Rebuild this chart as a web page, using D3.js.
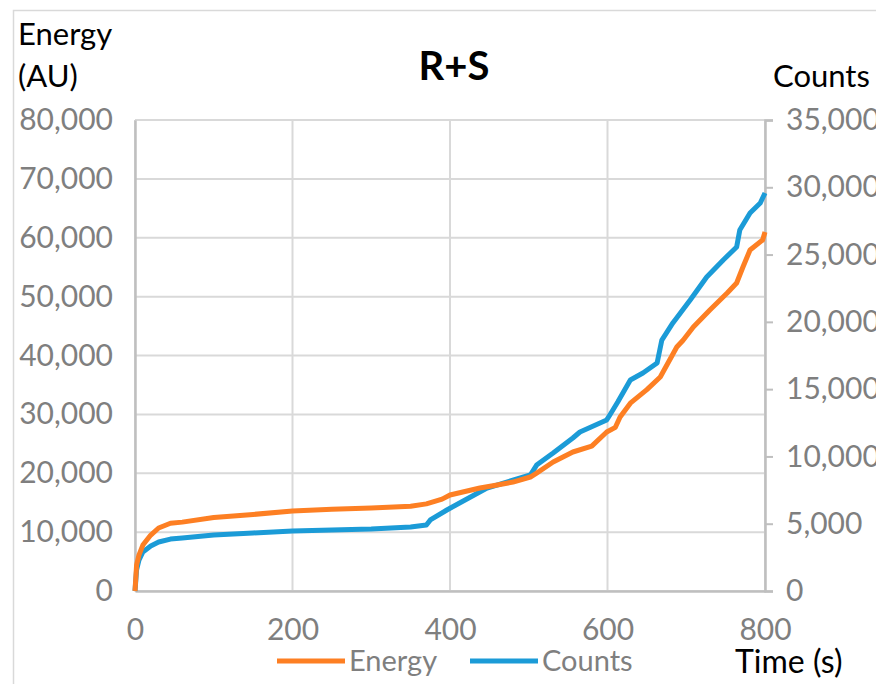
<!DOCTYPE html>
<html>
<head>
<meta charset="utf-8">
<script src="https://cdn.jsdelivr.net/npm/d3@7"></script>
<style>
  body { margin: 0; background: #fff; }
  text { font-family: Lato, "Open Sans", sans-serif; }
</style>
</head>
<body>
<div id="chart"></div>
<script>
// time (s) for each series
const energyTime = [0, 2, 5, 10, 20, 30, 45, 60, 100, 150, 200, 250, 300, 350, 370, 390, 400, 438, 460, 480, 502, 510, 531, 556, 580, 599, 610, 616, 629, 650, 667, 688, 696, 709, 730, 752, 764, 772, 781, 797, 800];
const energyValues = [0, 4400, 6100, 7800, 9500, 10700, 11500, 11700, 12500, 13000, 13600, 13900, 14100, 14400, 14800, 15600, 16300, 17500, 18000, 18500, 19360, 20040, 21910, 23610, 24600, 27000, 27800, 29550, 31900, 34200, 36350, 41440, 42600, 44840, 47730, 50620, 52310, 55030, 57920, 59620, 60980];

const countsTime = [0, 2, 5, 10, 20, 30, 45, 60, 100, 150, 200, 250, 300, 350, 370, 375, 396, 447, 502, 510, 531, 556, 565, 599, 603, 613, 629, 645, 663, 669, 683, 705, 726, 747, 764, 768, 781, 794, 800];
const countsValues = [0, 1560, 2300, 2900, 3350, 3640, 3860, 3940, 4160, 4310, 4460, 4530, 4610, 4760, 4900, 5280, 6020, 7650, 8620, 9360, 10250, 11370, 11815, 12710, 13080, 14040, 15680, 16200, 16940, 18650, 19920, 21620, 23330, 24600, 25560, 26830, 28090, 28830, 29580];

const xTicks = [0, 200, 400, 600, 800];
const leftTicks = [0, 10000, 20000, 30000, 40000, 50000, 60000, 70000, 80000];
const rightTicks = [0, 5000, 10000, 15000, 20000, 25000, 30000, 35000];

const width = 876, height = 684;
const margin = {top: 120, right: 111, bottom: 93, left: 135};
const innerW = width - margin.left - margin.right;
const innerH = height - margin.top - margin.bottom;

const orange = "#fd7f23", blue = "#1b9bd7";
const gridColor = "#d9d9d9", axisColor = "#bfbfbf", labelColor = "#7f7f7f";

const svg = d3.select("#chart").append("svg")
    .attr("width", width)
    .attr("height", height);

// chart frame
svg.append("rect")
    .attr("x", 13.5).attr("y", 10.5)
    .attr("width", 900).attr("height", 700)
    .attr("fill", "none")
    .attr("stroke", "#d9d9d9")
    .attr("stroke-width", 1.5);

const g = svg.append("g")
    .attr("transform", "translate(" + margin.left + "," + margin.top + ")");

const x = d3.scaleLinear().domain([0, 800]).range([0, innerW]);
const yL = d3.scaleLinear().domain([0, 80000]).range([innerH, 0]);
const yR = d3.scaleLinear().domain([0, 35000]).range([innerH, 0]);

// gridlines
g.append("g").selectAll("line")
    .data(leftTicks)
    .join("line")
    .attr("x1", 0).attr("x2", innerW)
    .attr("y1", d => yL(d)).attr("y2", d => yL(d))
    .attr("stroke", gridColor).attr("stroke-width", 2);

g.append("g").selectAll("line")
    .data(xTicks)
    .join("line")
    .attr("x1", d => x(d)).attr("x2", d => x(d))
    .attr("y1", 0).attr("y2", innerH)
    .attr("stroke", gridColor).attr("stroke-width", 2);

// axes
const fmt = d3.format(",");

const xAxis = g.append("g")
    .attr("transform", "translate(0," + innerH + ")")
    .call(d3.axisBottom(x).tickValues(xTicks).tickSize(0).tickPadding(28).tickFormat(d3.format("d")));

const leftAxis = g.append("g")
    .call(d3.axisLeft(yL).tickValues(leftTicks).tickSize(0).tickPadding(22).tickFormat(fmt));

const rightAxis = g.append("g")
    .attr("transform", "translate(" + innerW + ",0)")
    .call(d3.axisRight(yR).tickValues(rightTicks).tickSize(8).tickPadding(13).tickFormat(fmt));

[xAxis, leftAxis, rightAxis].forEach(a => {
    a.select(".domain").attr("stroke", axisColor).attr("stroke-width", 2.5);
    a.selectAll(".tick line").attr("stroke", axisColor).attr("stroke-width", 2);
    a.selectAll(".tick text")
        .attr("fill", labelColor)
        .style("font-size", "30px");
});

// series
const line = d3.line()
    .x(d => x(d[0]))
    .curve(d3.curveLinear);

g.append("path")
    .datum(d3.zip(countsTime, countsValues))
    .attr("fill", "none")
    .attr("stroke", blue)
    .attr("stroke-width", 5)
    .attr("stroke-linejoin", "round")
    .attr("d", line.y(d => yR(d[1])));

g.append("path")
    .datum(d3.zip(energyTime, energyValues))
    .attr("fill", "none")
    .attr("stroke", orange)
    .attr("stroke-width", 5)
    .attr("stroke-linejoin", "round")
    .attr("d", line.y(d => yL(d[1])));

// titles
svg.append("text")
    .attr("x", 454).attr("y", 80)
    .attr("text-anchor", "middle")
    .style("font-size", "40px").style("font-weight", "bold")
    .text("R+S");

svg.append("text").attr("x", 18).attr("y", 45).style("font-size", "31px").text("Energy");
svg.append("text").attr("x", 18).attr("y", 87).style("font-size", "31px").text("(AU)");
svg.append("text").attr("x", 773).attr("y", 87).style("font-size", "31px").text("Counts");
svg.append("text").attr("x", 735).attr("y", 673).style("font-size", "32px").text("Time (s)");

// legend
const legend = svg.append("g").attr("transform", "translate(277,661)");
const items = [{name: "Energy", color: orange, x: 0}, {name: "Counts", color: blue, x: 193}];
items.forEach(it => {
    legend.append("line")
        .attr("x1", it.x).attr("x2", it.x + 68)
        .attr("y1", 0).attr("y2", 0)
        .attr("stroke", it.color).attr("stroke-width", 5);
    legend.append("text")
        .attr("x", it.x + 72).attr("y", 10)
        .attr("fill", labelColor)
        .style("font-size", "29px")
        .text(it.name);
});
</script>
</body>
</html>
